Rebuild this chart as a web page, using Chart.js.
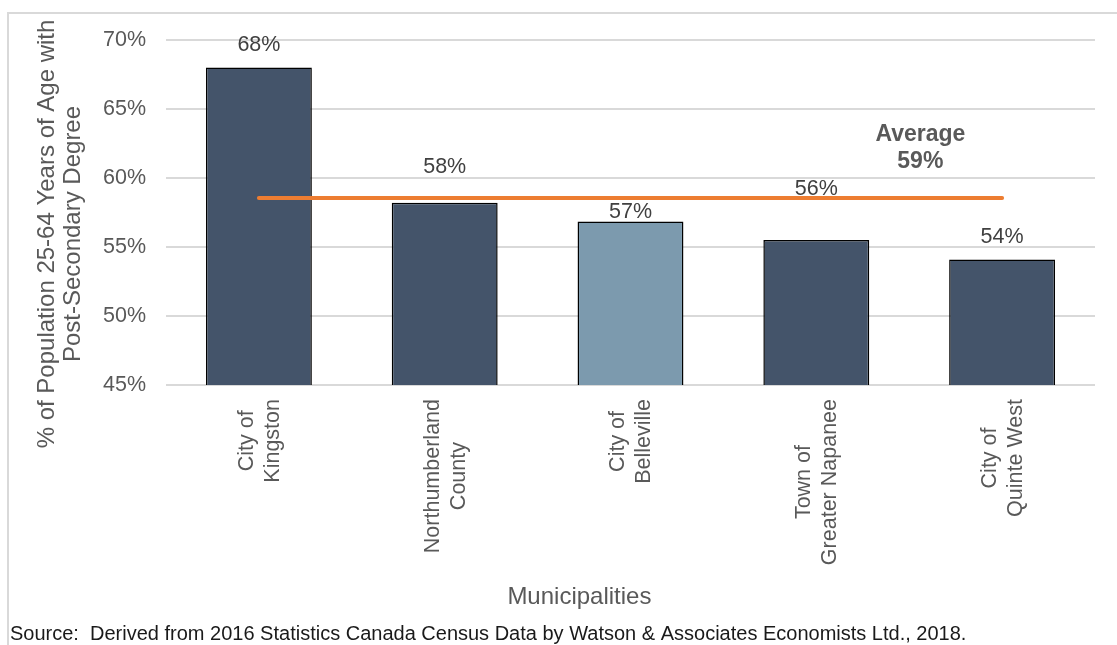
<!DOCTYPE html>
<html>
<head>
<meta charset="utf-8">
<script src="https://cdn.jsdelivr.net/npm/chart.js@4/dist/chart.umd.min.js"></script>
<style>
  html, body { margin: 0; padding: 0; background: #fff; }
  #wrap { position: absolute; left: 0; top: 0; width: 1117px; height: 645px; }
</style>
</head>
<body>
<div id="wrap"><canvas id="c" width="1117" height="645"></canvas></div>
<script>
const categories = [["City of", "Kingston"], ["Northumberland", "County"], ["City of", "Belleville"], ["Town of", "Greater Napanee"], ["City of", "Quinte West"]];
const shareValues = [68.0, 58.2, 56.85, 55.5, 54.1];
const valueLabels = ["68%", "58%", "57%", "56%", "54%"];
const averageValues = [58.55, 58.55, 58.55, 58.55, 58.55];
const averageLabel = ["Average", "59%"];
const yTicks = [45, 50, 55, 60, 65, 70];
const yTitle = ["% of Population 25-64 Years of Age with", "Post-Secondary Degree"];
const xTitle = "Municipalities";
const barColors = ["#44546A", "#44546A", "#7C9AAE", "#44546A", "#44546A"];
const labelOffsets = [23, 36, 9, 51, 22];
const sourceText = "Source:  Derived from 2016 Statistics Canada Census Data by Watson & Associates Economists Ltd., 2018.";

const FONT = "'Liberation Sans', Arial, sans-serif";

const decor = {
  id: 'decor',
  beforeDraw(chart) {
    const ctx = chart.ctx;
    ctx.save();
    ctx.strokeStyle = '#D9D9D9';
    ctx.lineWidth = 2;
    ctx.beginPath();
    ctx.moveTo(8, 645);
    ctx.lineTo(8, 13);
    ctx.lineTo(1117, 13);
    ctx.stroke();
    ctx.restore();
  },
  afterDraw(chart) {
    const ctx = chart.ctx;
    const xs = chart.scales.x, ys = chart.scales.y;
    const area = chart.chartArea;
    const meta = chart.getDatasetMeta(1);
    ctx.save();
    // value labels
    ctx.font = "21.5px " + FONT;
    ctx.fillStyle = '#404040';
    ctx.textAlign = 'center';
    ctx.textBaseline = 'middle';
    meta.data.forEach((bar, i) => {
      ctx.fillText(valueLabels[i], bar.x, bar.y - labelOffsets[i]);
    });
    // category labels (rotated, centered block)
    ctx.fillStyle = '#595959';
    ctx.font = "21.5px " + FONT;
    const lh = 26;
    categories.forEach((lines, i) => {
      const x = xs.getPixelForTick(i);
      const maxW = Math.max(...lines.map(l => ctx.measureText(l).width));
      const cy = area.bottom + 14 + maxW / 2;
      ctx.save();
      ctx.translate(x, cy);
      ctx.rotate(-Math.PI / 2);
      ctx.textAlign = 'center';
      ctx.textBaseline = 'middle';
      lines.forEach((l, k) => {
        ctx.fillText(l, 0, (k - (lines.length - 1) / 2) * lh + 1);
      });
      ctx.restore();
    });
    // average label
    ctx.font = "bold 23px " + FONT;
    ctx.fillStyle = '#595959';
    ctx.textAlign = 'center';
    const ax = xs.getPixelForValue(3.56);
    ctx.fillText(averageLabel[0], ax, ys.getPixelForValue(63.15));
    ctx.fillText(averageLabel[1], ax, ys.getPixelForValue(61.2));
    // y title
    ctx.save();
    ctx.font = "24px " + FONT;
    ctx.fillStyle = '#595959';
    ctx.translate(60, 234);
    ctx.rotate(-Math.PI / 2);
    ctx.textAlign = 'center';
    ctx.textBaseline = 'middle';
    ctx.fillText(yTitle[0], 0, -13);
    ctx.fillText(yTitle[1], 0, 13);
    ctx.restore();
    // x title
    ctx.font = "24px " + FONT;
    ctx.fillStyle = '#595959';
    ctx.textAlign = 'center';
    ctx.fillText(xTitle, area.left + (area.right - area.left) * 0.445, 597);
    // source
    ctx.font = "20px " + FONT;
    ctx.fillStyle = '#1a1a1a';
    ctx.textAlign = 'left';
    ctx.fillText(sourceText, 10, 634);
    ctx.restore();
  }
};

new Chart(document.getElementById('c'), {
  data: {
    labels: categories,
    datasets: [
      {
        type: 'line',
        label: 'Average',
        data: averageValues,
        borderColor: '#ED7D31',
        borderWidth: 4,
        borderCapStyle: 'round',
        pointRadius: 0,
        fill: false,
        order: 0
      },
      {
        type: 'bar',
        label: 'Share',
        data: shareValues,
        backgroundColor: barColors,
        borderColor: '#000000',
        borderWidth: 1.5,
        barPercentage: 0.57,
        categoryPercentage: 1,
        order: 1
      }
    ]
  },
  plugins: [decor],
  options: {
    responsive: false,
    animation: false,
    devicePixelRatio: 1,
    layout: { padding: { left: 22, top: 40, right: 22, bottom: 30 } },
    plugins: { legend: { display: false }, tooltip: { enabled: false } },
    scales: {
      x: {
        grid: { display: false },
        border: { display: false },
        ticks: { display: false },
        afterFit(scale) { scale.height = 230; }
      },
      y: {
        min: 45, max: 70,
        afterBuildTicks(scale) { scale.ticks = yTicks.map(v => ({ value: v })); },
        grid: { color: '#D9D9D9', lineWidth: 2, drawTicks: false },
        border: { display: false },
        ticks: {
          color: '#595959', font: { family: FONT, size: 21.5 }, padding: 20,
          callback: v => v + '%'
        },
        afterFit(scale) { scale.width = 144; }
      }
    }
  }
});
</script>
</body>
</html>
